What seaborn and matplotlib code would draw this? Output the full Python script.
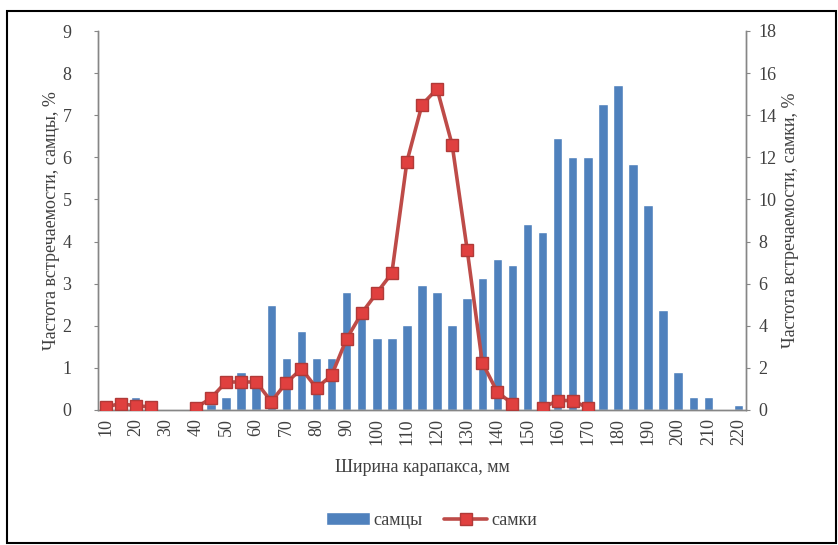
import numpy as np
import pandas as pd
import matplotlib
matplotlib.use("Agg")
import matplotlib.pyplot as plt
from matplotlib.patches import Rectangle
import seaborn as sns

# carapace width classes, mm
sizes = list(range(10, 225, 5))

# males, % (left axis)
males = [0, 0, 0.3, 0, 0, 0, 0, 0.15, 0.3, 0.9,
         0.75, 2.5, 1.24, 1.87, 1.24, 1.24, 2.8, 2.33, 1.71, 1.71,
         2.02, 2.97, 2.8, 2.02, 2.66, 3.13, 3.58, 3.44, 4.42, 4.23,
         6.47, 6.0, 6.0, 7.27, 7.72, 5.84, 4.87, 2.37, 0.9, 0.3,
         0.3, 0, 0.12]

# females, % (right axis); NaN = no value
nan = np.nan
females = [0.15, 0.3, 0.2, 0.15, nan, nan, 0.1, 0.57, 1.33, 1.33,
           1.33, 0.4, 1.3, 1.95, 1.05, 1.64, 3.38, 4.6, 5.56, 6.5,
           11.8, 14.5, 15.25, 12.6, 7.6, 2.25, 0.85, 0.3, nan, 0.1,
           0.45, 0.45, 0.1, nan, nan, nan, nan, nan, nan, nan,
           nan, nan, nan]

left_ticks = list(range(0, 10))
right_ticks = list(range(0, 20, 2))
xtick_labels = [str(s) for s in sizes[::2]]

df = pd.DataFrame({"size": [str(s) for s in sizes], "males": males})

sns.set_style("white")
plt.rcParams["font.family"] = ["Liberation Serif", "DejaVu Serif"]

fig = plt.figure(figsize=(8.38, 5.45), dpi=100)
ax = fig.add_axes([98 / 838, 135 / 545, 648 / 838, 379 / 545])

sns.barplot(data=df, x="size", y="males", color="#4F81BD", saturation=1,
            width=0.63, ax=ax, label="самцы", legend=False)
if ax.get_legend() is not None:
    ax.get_legend().remove()
ax.set_xlim(-0.5, len(sizes) - 0.5)
ax.set_ylim(0, 9)
ax.set_yticks(left_ticks)
ax.set_xticks(np.arange(0, len(sizes), 2))
ax.set_xticklabels(xtick_labels, rotation=90)
ax.set_xticks(np.arange(-0.5, len(sizes), 1), minor=True)

ax2 = ax.twinx()
x_pos = np.arange(len(sizes))
ax2.plot(x_pos, females, color="#BE4B48", lw=2.6, marker="s", ms=8,
         mfc="#E0403F", mec="#B03A38", mew=1, label="самки", zorder=5)
ax2.set_ylim(0, 18)
ax2.set_yticks(right_ticks)

grey = "#868686"
for a in (ax, ax2):
    a.spines["top"].set_visible(False)
    for side in ("left", "right", "bottom"):
        a.spines[side].set_color(grey)
        a.spines[side].set_linewidth(1)
    a.tick_params(axis="both", which="both", direction="out", length=3,
                  width=0.8, color=grey, labelsize=13, labelcolor="#404040")
ax.tick_params(axis="x", which="major", length=0, pad=6)
ax.tick_params(axis="x", which="minor", length=3)
ax.tick_params(axis="y", pad=16)
ax2.tick_params(axis="y", pad=6)

ax.set_xlabel("Ширина карапакса, мм", fontsize=13, color="#404040", labelpad=10)
ax.set_ylabel("Частота встречаемости, самцы, %", fontsize=13, color="#404040", labelpad=2)
ax2.set_ylabel("Частота встречаемости, самки, %", fontsize=13, color="#404040", labelpad=4)

bar_handle = ax.patches[0]
line_handle = ax2.get_lines()[0]
fig.legend([bar_handle, line_handle], ["самцы", "самки"], loc="center",
           bbox_to_anchor=(0.515, 0.045), ncol=2, frameon=False, fontsize=13,
           handlelength=2.4, handletextpad=0.2, columnspacing=1.2,
           labelcolor="#404040")

fig.patches.append(Rectangle((7 / 838, 2 / 545), 829 / 838, 532 / 545,
                             transform=fig.transFigure, fill=False,
                             edgecolor="black", lw=1.5))

fig.savefig("out.png", dpi=100)
